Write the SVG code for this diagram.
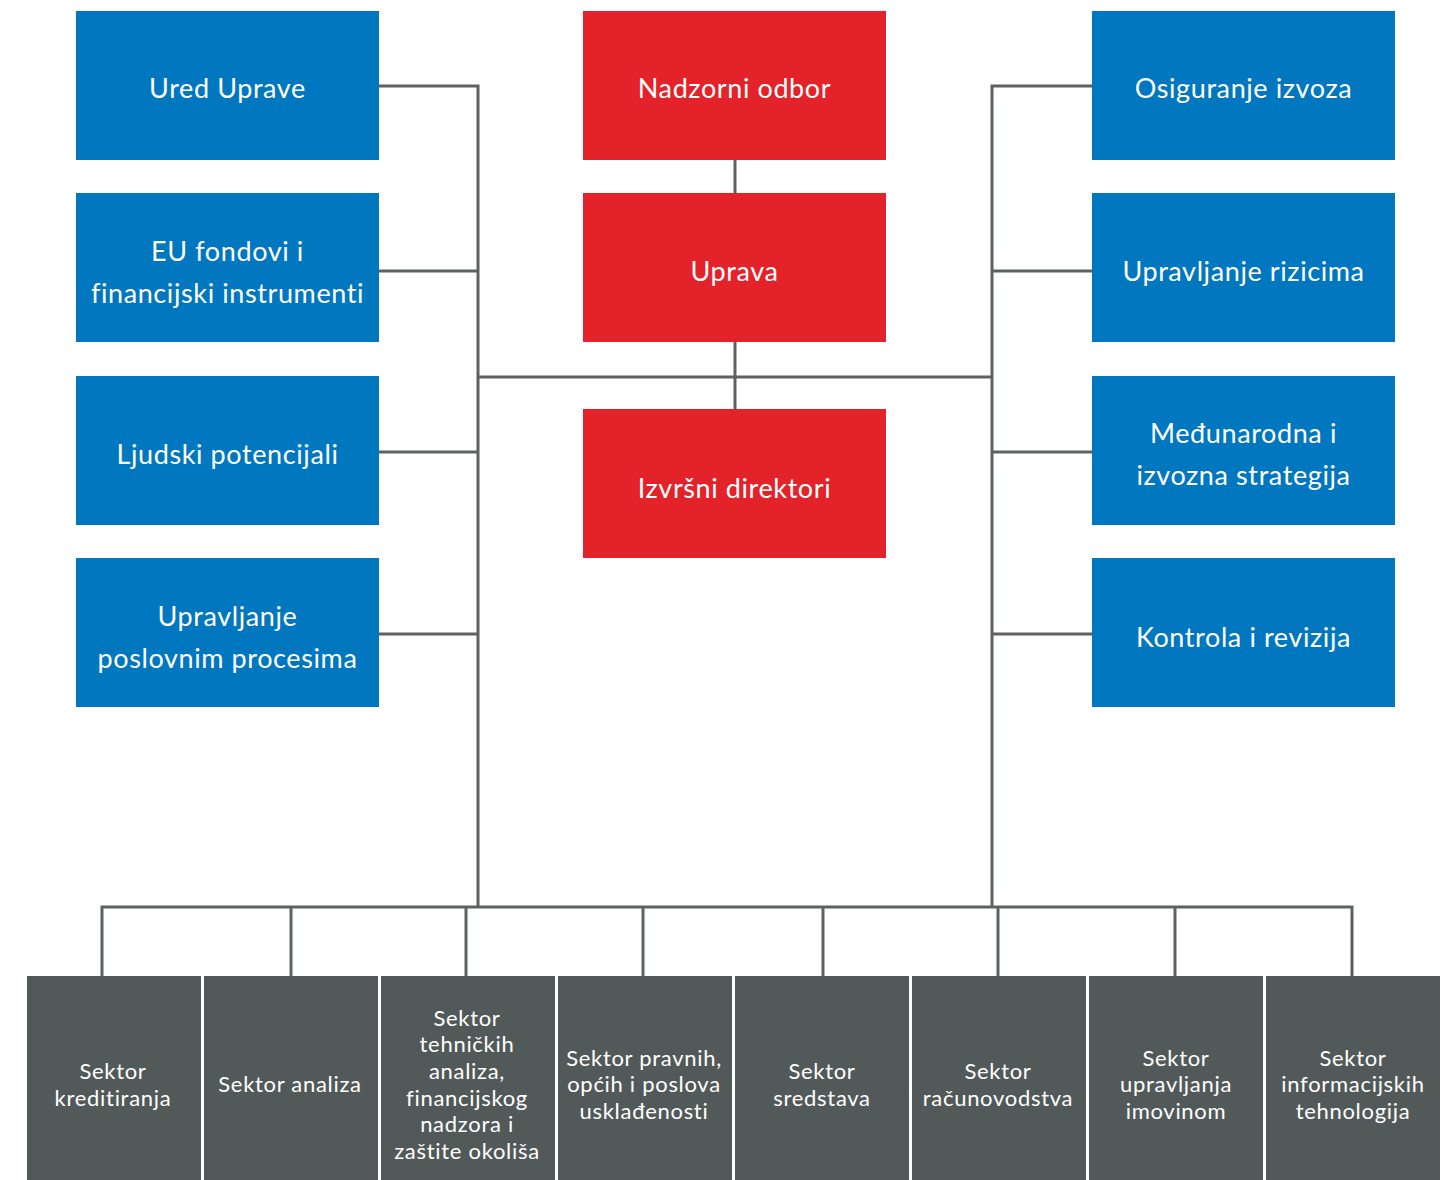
<svg xmlns="http://www.w3.org/2000/svg" width="1456" height="1180" viewBox="0 0 1456 1180">
<style>
.blue{fill:#0077bf}
.red{fill:#e42229}
.grey{fill:#525a59}
.t{font-family:"Lato","Open Sans","Liberation Sans",sans-serif;fill:#ffffff;text-anchor:middle;dominant-baseline:central;font-variant-ligatures:none}
.big{font-size:27px;letter-spacing:0.6px}
.sm{font-size:22px;letter-spacing:0.7px}
.ln{stroke:#5b6261;stroke-width:3;fill:none}
</style>
<rect width="1456" height="1180" fill="#ffffff"/>
<g id="connectors" class="ln">
<line x1="735" y1="160" x2="735" y2="409"/>
<line x1="478" y1="377" x2="992" y2="377"/>
<polyline points="379,86 478,86 478,907"/>
<line x1="379" y1="271" x2="478" y2="271"/>
<line x1="379" y1="452" x2="478" y2="452"/>
<line x1="379" y1="634" x2="478" y2="634"/>
<polyline points="1092,86 992,86 992,907"/>
<line x1="992" y1="271" x2="1092" y2="271"/>
<line x1="992" y1="452" x2="1092" y2="452"/>
<line x1="992" y1="634" x2="1092" y2="634"/>
<polyline points="102,976 102,907 1352,907 1352,976"/>
<line x1="291" y1="907" x2="291" y2="976"/>
<line x1="466" y1="907" x2="466" y2="976"/>
<line x1="643" y1="907" x2="643" y2="976"/>
<line x1="823" y1="907" x2="823" y2="976"/>
<line x1="998" y1="907" x2="998" y2="976"/>
<line x1="1175" y1="907" x2="1175" y2="976"/>
</g>
<g id="ured-uprave"><rect class="blue" x="76" y="11" width="303" height="149"/><text class="t big" x="227.5" y="87">Ured Uprave</text></g>
<g id="eu-fondovi"><rect class="blue" x="76" y="193" width="303" height="149"/><text class="t big" x="227.5" y="250">EU fondovi i</text><text class="t big" x="227.5" y="292">financijski instrumenti</text></g>
<g id="ljudski-potencijali"><rect class="blue" x="76" y="376" width="303" height="149"/><text class="t big" x="227.5" y="453">Ljudski potencijali</text></g>
<g id="upravljanje-procesima"><rect class="blue" x="76" y="558" width="303" height="149"/><text class="t big" x="227.5" y="615">Upravljanje</text><text class="t big" x="227.5" y="657">poslovnim procesima</text></g>
<g id="nadzorni-odbor"><rect class="red" x="583" y="11" width="303" height="149"/><text class="t big" x="734.5" y="87">Nadzorni odbor</text></g>
<g id="uprava"><rect class="red" x="583" y="193" width="303" height="149"/><text class="t big" x="734.5" y="270">Uprava</text></g>
<g id="izvrsni-direktori"><rect class="red" x="583" y="409" width="303" height="149"/><text class="t big" x="734.5" y="487">Izvršni direktori</text></g>
<g id="osiguranje-izvoza"><rect class="blue" x="1092" y="11" width="303" height="149"/><text class="t big" x="1243.5" y="87">Osiguranje izvoza</text></g>
<g id="upravljanje-rizicima"><rect class="blue" x="1092" y="193" width="303" height="149"/><text class="t big" x="1243.5" y="270">Upravljanje rizicima</text></g>
<g id="medunarodna"><rect class="blue" x="1092" y="376" width="303" height="149"/><text class="t big" x="1243.5" y="432">Međunarodna i</text><text class="t big" x="1243.5" y="474">izvozna strategija</text></g>
<g id="kontrola"><rect class="blue" x="1092" y="558" width="303" height="149"/><text class="t big" x="1243.5" y="636">Kontrola i revizija</text></g>
<g id="s-kreditiranja"><rect class="grey" x="27" y="976" width="174" height="204"/><text class="t sm" x="113" y="1070">Sektor</text><text class="t sm" x="113" y="1097">kreditiranja</text></g>
<g id="s-analiza"><rect class="grey" x="204" y="976" width="174" height="204"/><text class="t sm" x="290" y="1083">Sektor analiza</text></g>
<g id="s-tehnickih"><rect class="grey" x="381" y="976" width="174" height="204"/><text class="t sm" x="467" y="1017">Sektor</text><text class="t sm" x="467" y="1043">tehničkih</text><text class="t sm" x="467" y="1070">analiza,</text><text class="t sm" x="467" y="1097">financijskog</text><text class="t sm" x="467" y="1123">nadzora i</text><text class="t sm" x="467" y="1150">zaštite okoliša</text></g>
<g id="s-pravnih"><rect class="grey" x="558" y="976" width="174" height="204"/><text class="t sm" x="644" y="1057">Sektor pravnih,</text><text class="t sm" x="644" y="1083">općih i poslova</text><text class="t sm" x="644" y="1110">usklađenosti</text></g>
<g id="s-sredstava"><rect class="grey" x="735" y="976" width="174" height="204"/><text class="t sm" x="822" y="1070">Sektor</text><text class="t sm" x="822" y="1097">sredstava</text></g>
<g id="s-racunovodstva"><rect class="grey" x="912" y="976" width="174" height="204"/><text class="t sm" x="998" y="1070">Sektor</text><text class="t sm" x="998" y="1097">računovodstva</text></g>
<g id="s-imovinom"><rect class="grey" x="1089" y="976" width="174" height="204"/><text class="t sm" x="1176" y="1057">Sektor</text><text class="t sm" x="1176" y="1083">upravljanja</text><text class="t sm" x="1176" y="1110">imovinom</text></g>
<g id="s-it"><rect class="grey" x="1266" y="976" width="174" height="204"/><text class="t sm" x="1353" y="1057">Sektor</text><text class="t sm" x="1353" y="1083">informacijskih</text><text class="t sm" x="1353" y="1110">tehnologija</text></g>
</svg>
